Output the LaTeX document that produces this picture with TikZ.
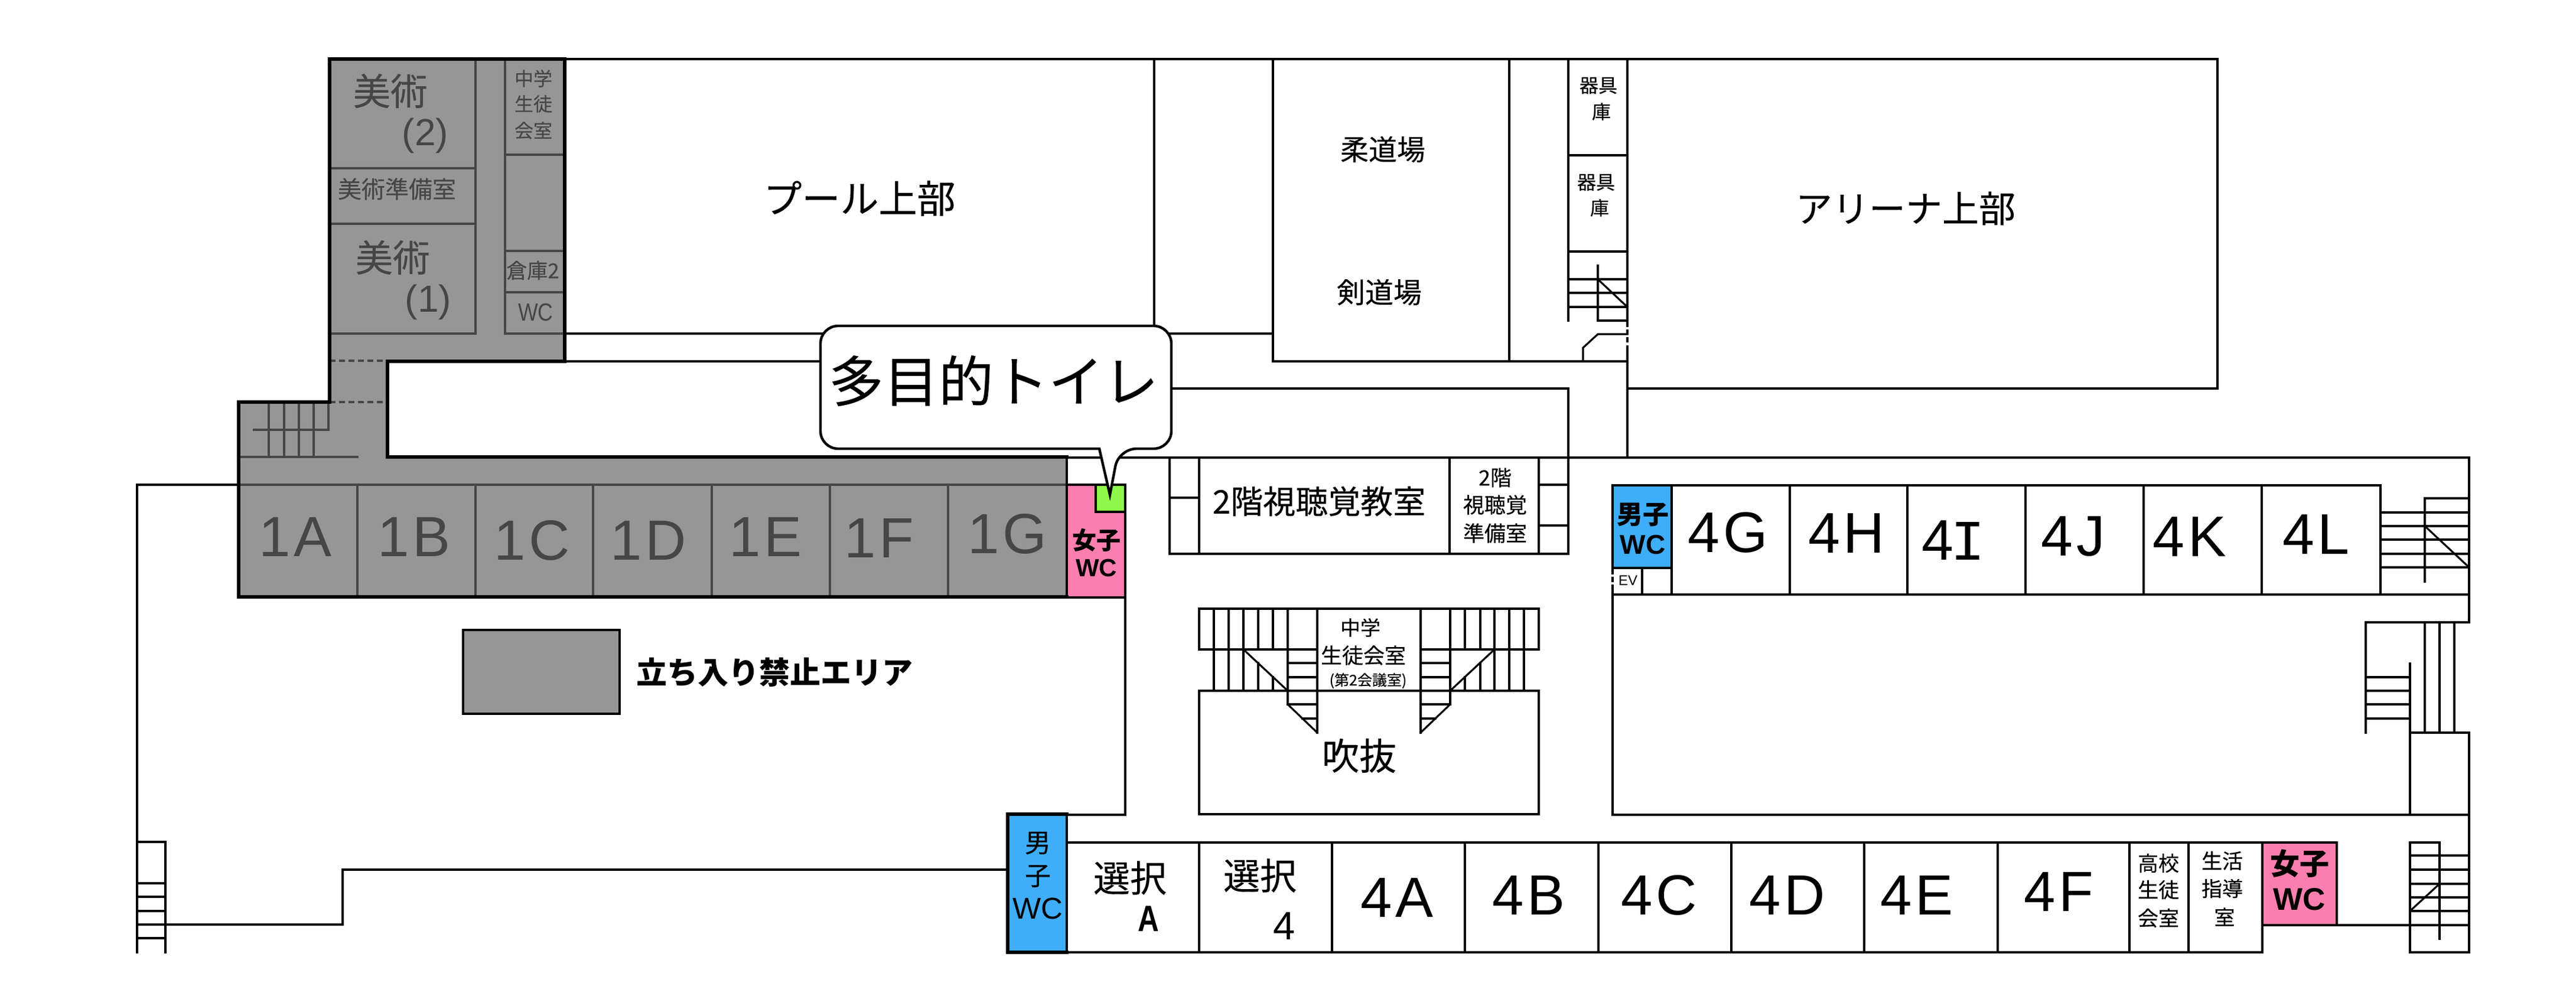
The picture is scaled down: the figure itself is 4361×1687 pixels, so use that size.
\documentclass[tikz,border=0pt]{standalone}
\usepackage{fontspec}
\usepackage{graphicx}
\setmainfont{Liberation Sans}
\newfontfamily\jp[FakeBold=0.25]{Noto Sans CJK JP}
\newfontfamily\jb{Noto Sans CJK JP}
\newfontfamily\lmono{Liberation Mono}
\newfontfamily\wide[LetterSpace=6]{Liberation Sans}
\newcommand\jf[1]{\jp\fontsize{\fpeval{#1/4}}{\fpeval{#1/4}}\selectfont}
\newcommand\jbf[1]{\jb\bfseries\fontsize{\fpeval{#1/4}}{\fpeval{#1/4}}\selectfont}
\newcommand\lf[1]{\rmfamily\fontsize{\fpeval{#1/4}}{\fpeval{#1/4}}\selectfont}
\newcommand\wf[1]{\wide\fontsize{\fpeval{#1/4}}{\fpeval{#1/4}}\selectfont}
\newcounter{lb}
\newcommand\lbl[3]{\stepcounter{lb}\node[lab,font=#2] (lab\arabic{lb}) at (#1) {#3};}
\newcommand\glbl[3]{\stepcounter{lb}\node[lab,text=gtext,font=#2] (lab\arabic{lb}) at (#1) {#3};}
\definecolor{gfill}{HTML}{969696}
\definecolor{gtext}{HTML}{464646}
\definecolor{wcb}{HTML}{3FAEF8}
\definecolor{wcp}{HTML}{FB7FAE}
\definecolor{wcg}{HTML}{8EF94A}
\tikzset{
  lab/.style={inner sep=0pt,outer sep=0pt,anchor=center,align=center},
  wall/.style={draw=black,line width=.8pt,line cap=rect,line join=miter},
  heavy/.style={draw=black,line width=1.3pt,line cap=rect,line join=miter},
  gline/.style={draw=gtext,line width=.8pt,line cap=rect},
  gdash/.style={draw=gtext,line width=.8pt,dash pattern=on 2.5pt off 1.5pt},
  wdash/.style={draw=black,line width=.8pt,dash pattern=on 2.2pt off 1.1pt},
}
\begin{document}
\begin{tikzpicture}[x=.25pt,y=-.25pt]
\useasboundingbox (0,0) rectangle (4361,1687);
% ---------- fills
\fill[gfill] (558,100)--(956,100)--(956,612)--(656,612)--(656,774)--(1806,774)--(1806,1011)--(404,1011)--(404,681)--(558,681)--cycle;
\fill[wcp] (1806,821) rectangle (1905,1012);
\fill[wcg] (1855,821) rectangle (1905,867);
\fill[wcb] (2730,822) rectangle (2830,962);
\fill[wcb] (1706,1379) rectangle (1806,1613);
\fill[wcp] (3830,1427) rectangle (3956,1567);
\fill[gfill] (784,1067) rectangle (1049,1209);
% ---------- upper block
\draw[wall] (956,100)--(3754,100)--(3754,658)--(2755,658);
\draw[wall] (956,565)--(2155,565);
\draw[wall] (956,612)--(1389,612);
\draw[wall] (1954,100)--(1954,552);
\draw[wall] (2155,100)--(2155,612)--(2755,612);
\draw[wall] (2555,100)--(2555,612);
\draw[wall] (2655,100)--(2655,543);
\draw[wall] (2755,100)--(2755,543);
\draw[wdash] (2755,545)--(2755,590);
\draw[wall] (2755,590)--(2755,775);
\draw[wall] (2655,263)--(2755,263);
\draw[wall] (2655,426)--(2755,426);
\draw[wall] (2705,450)--(2705,543)--(2755,543);
\draw[wall] (2655,473)--(2755,473);
\draw[wall] (2655,496)--(2755,496);
\draw[wall] (2655,520)--(2755,520);
\draw[wall] (2705,473)--(2755,520);
\draw[wall] (2755,566)--(2705,566)--(2680,589)--(2680,612);
% ---------- middle corridor
\draw[wall] (1983,658)--(2655,658)--(2655,938);
\draw[wall] (232,821)--(404,821);
\draw[wall] (1806,775)--(4180,775)--(4180,1054)--(4005,1054)--(4005,1241);
\draw[wall] (1980,775)--(1980,938)--(2655,938);
\draw[wall] (2030,775)--(2030,938);
\draw[wall] (2454,775)--(2454,938);
\draw[wall] (2605,775)--(2605,938);
\draw[wall] (1980,843)--(2030,843);
\draw[wall] (2605,821)--(2655,821);
\draw[wall] (2605,890)--(2655,890);
% ---------- grey block
\draw[gline] (558,285)--(805,285);
\draw[gline] (558,379)--(805,379);
\draw[gline] (558,565)--(805,565)--(805,100);
\draw[gline] (855,100)--(855,565)--(956,565);
\draw[gline] (855,262)--(956,262);
\draw[gline] (855,425)--(956,425);
\draw[gline] (855,495)--(956,495);
\draw[gdash] (558,611)--(656,611);
\draw[gdash] (558,681)--(656,681);
\draw[gline] (455,681)--(455,774);
\draw[gline] (481,681)--(481,774);
\draw[gline] (506,681)--(506,774);
\draw[gline] (531,681)--(531,774);
\draw[gline] (556,681)--(556,728)--(430,728);
\draw[gline] (404,774)--(605,774);
\draw[gline] (404,821)--(1806,821);
\draw[gline] (605,821)--(605,1011);
\draw[gline] (805,821)--(805,1011);
\draw[gline] (1004,821)--(1004,1011);
\draw[gline] (1205,821)--(1205,1011);
\draw[gline] (1405,821)--(1405,1011);
\draw[gline] (1605,821)--(1605,1011);
\draw[heavy] (1806,774)--(656,774)--(656,612)--(956,612)--(956,100)--(558,100)--(558,681)--(404,681)--(404,1011)--(1806,1011);
\draw[wall] (1806,774)--(1806,1012)--(1905,1012);
\draw[wall] (1806,821)--(1905,821);
\draw[wall] (1905,821)--(1905,1380)--(1706,1380);
\draw[wall] (1855,821)--(1855,867)--(1905,867);
\draw[heavy,line width=1.1pt] (784,1067) rectangle (1049,1209);
% ---------- central stairs
\draw[wall] (2030,1100)--(2030,1031)--(2605,1031)--(2605,1100);
\draw[wall] (2030,1170) rectangle (2605,1379);
\draw[wall] (2030,1100)--(2230,1100);
\draw[wall] (2405,1100)--(2605,1100);
\foreach \x in {2055,2080,2105,2530,2555,2580} \draw[wall] (\x,1031)--(\x,1170);
\foreach \x in {2130,2155,2480,2506} \draw[wall] (\x,1031)--(\x,1100);
\draw[wall] (2130,1123)--(2130,1170);
\draw[wall] (2155,1147)--(2155,1170);
\draw[wall] (2480,1147)--(2480,1170);
\draw[wall] (2506,1123)--(2506,1170);
\draw[wall] (2180,1031)--(2180,1193);
\draw[wall] (2455,1031)--(2455,1193);
\draw[wall] (2230,1031)--(2230,1241);
\draw[wall] (2405,1031)--(2405,1241);
\foreach \y in {1123,1147,1193} {\draw[wall] (2180,\y)--(2230,\y); \draw[wall] (2405,\y)--(2455,\y);}
\draw[wall] (2205,1217)--(2230,1217);
\draw[wall] (2405,1217)--(2430,1217);
\draw[wall] (2105,1100)--(2180,1170);
\draw[wall] (2180,1193)--(2230,1241);
\draw[wall] (2530,1100)--(2455,1170);
\draw[wall] (2455,1193)--(2405,1241);
% ---------- 4G-4L wing
\draw[wall] (2730,822)--(4030,822);
\draw[wall] (2730,1007)--(4180,1007);
\draw[wall] (2730,1380)--(4180,1380);
\draw[wall] (2730,822)--(2730,962);
\draw[wdash] (2730,964)--(2730,1000);
\draw[wall] (2730,1000)--(2730,1380);
\draw[wall] (2730,962)--(2830,962);
\draw[wall] (2780,962)--(2780,1007);
\draw[wall] (2830,822)--(2830,1007);
\foreach \x in {3030,3229,3429,3629,3829,4030} \draw[wall] (\x,822)--(\x,1007);
\foreach \y in {868,891,914,938,961} \draw[wall] (4030,\y)--(4180,\y);
\draw[wall] (4105,985)--(4105,844)--(4180,844);
\draw[wall] (4105,891)--(4180,961);
\foreach \y in {1147,1170,1193,1217} \draw[wall] (4005,\y)--(4080,\y);
\draw[wall] (4080,1124)--(4080,1380);
\foreach \x in {4105,4130,4155} \draw[wall] (\x,1054)--(\x,1241);
\draw[wall] (4080,1241)--(4180,1241)--(4180,1613)--(4080,1613)--(4080,1427)--(4130,1427)--(4130,1590);
\foreach \y in {1449,1473,1497,1520,1543} \draw[wall] (4080,\y)--(4180,\y);
\draw[wall] (4130,1497)--(4080,1543);
% ---------- lower row
\draw[wall] (232,821)--(232,1613);
\draw[wall] (280,1426)--(280,1613);
\draw[wall] (232,1426)--(280,1426);
\foreach \y in {1496,1519,1543,1589} \draw[wall] (232,\y)--(280,\y);
\draw[wall] (232,1566)--(580,1566)--(580,1473)--(1706,1473);
\draw[wall] (1806,1427)--(3956,1427)--(3956,1567);
\draw[wall] (3830,1567)--(4180,1567);
\draw[wall] (3830,1427)--(3830,1613);
\draw[wall] (1806,1613)--(3830,1613);
\foreach \x in {2030,2255,2480,2706,2931,3156,3382,3605,3705} \draw[wall] (\x,1427)--(\x,1613);
\draw[wall] (1806,1379)--(1806,1613);
\draw[heavy] (1706,1613)--(1706,1379)--(1806,1379);
\draw[heavy] (1706,1613)--(1806,1613);
% ---------- callout
\draw[wall,line width=1.1pt,fill=white,line cap=butt] [rounded corners=7.5pt] (1389,650)--(1389,552)--(1983,552)--(1983,760)--(1894,760) [sharp corners] --(1879,838)--(1861,760) [rounded corners=7.5pt] --(1389,760)--cycle;
% ---------- texts
\lbl{1682,645}{\jf{93}}{多目的トイレ}
\lbl{1455,336}{\jf{65}}{プール上部}
\lbl{3226,353}{\jf{62}}{アリーナ上部}
\lbl{2341,253}{\jf{48}}{柔道場}
\lbl{2335,495}{\jf{48}}{剣道場}
\lbl{2706,145}{\jf{32}}{器具}
\lbl{2711,189}{\jf{32}}{庫}
\lbl{2702,309}{\jf{32}}{器具}
\lbl{2708,352}{\jf{32}}{庫}
\glbl{661,154}{\jf{63}}{美術}
\glbl{720,230}{\lf{64}}{(2)}
\glbl{672,320}{\jf{40}}{美術準備室}
\glbl{665,436}{\jf{63}}{美術}
\glbl{725,512}{\lf{64}}{(1)}
\glbl{903,133}{\jf{32}}{中学}
\glbl{903,176}{\jf{32}}{生徒}
\glbl{903,221}{\jf{32}}{会室}
\glbl{902,458}{\jf{35}}{倉庫2}
\glbl{907,529}{\lf{42}}{\scalebox{.85}[1]{WC}}
\glbl{500,909}{\wf{96}}{1A}
\glbl{701,909}{\wf{96}}{1B}
\glbl{901,915}{\wf{96}}{1C}
\glbl{1098,915}{\wf{96}}{1D}
\glbl{1296,909}{\wf{96}}{1E}
\glbl{1488,911}{\wf{96}}{1F}
\glbl{1705,904}{\wf{96}}{1G}
\lbl{1856,915}{\jbf{41}}{女子}
\lbl{1856,962}{\lf{42}\bfseries}{WC}
\lbl{2233,849}{\jf{55}}{2階視聴覚教室}
\lbl{2531,809}{\jf{36}}{2階}
\lbl{2531,855}{\jf{36}}{視聴覚}
\lbl{2531,903}{\jf{36}}{準備室}
\lbl{1311,1139}{\jbf{52}}{立ち入り禁止エリア}
\lbl{2303,1063}{\jf{34}}{中学}
\lbl{2308,1110}{\jf{36}}{生徒会室}
\lbl{2316,1153}{\jf{25}}{(第2会議室)}
\lbl{2301,1280}{\jf{63}}{吹抜}
\lbl{2781,872}{\jbf{44}}{男子}
\lbl{2781,923}{\lf{46}\bfseries}{WC}
\lbl{2756,983}{\lf{24}}{EV}
\lbl{2925,902}{\wf{97}}{4G}
\lbl{3126,903}{\wf{97}}{4H}
\lbl{3307,915}{\lf{97}}{4\kern-1.2pt{\lmono I}}
\lbl{3510,909}{\wf{97}}{4J}
\lbl{3707,909}{\wf{97}}{4K}
\lbl{3921,905}{\wf{97}}{4L}
\lbl{1757,1428}{\jf{44}}{男}
\lbl{1757,1484}{\jf{44}}{子}
\lbl{1757,1539}{\lf{51}}{WC}
\lbl{1913,1487}{\jf{62}}{選択}
\lbl{1944,1556}{\lf{62}\bfseries}{\scalebox{.8}[1]{A}}
\lbl{2133,1483}{\jf{62}}{選択}
\lbl{2174,1568}{\lf{67}}{4}
\lbl{2365,1520}{\wf{96}}{4A}
\lbl{2588,1516}{\wf{96}}{4B}
\lbl{2809,1516}{\wf{96}}{4C}
\lbl{3026,1516}{\wf{96}}{4D}
\lbl{3245,1516}{\wf{96}}{4E}
\lbl{3485,1510}{\wf{96}}{4F}
\lbl{3654,1462}{\jf{35}}{高校}
\lbl{3654,1507}{\jf{35}}{生徒}
\lbl{3654,1555}{\jf{35}}{会室}
\lbl{3762,1458}{\jf{35}}{生活}
\lbl{3762,1505}{\jf{35}}{指導}
\lbl{3766,1553}{\jf{35}}{室}
\lbl{3893,1463}{\jbf{50}}{女子}
\lbl{3893,1523}{\lf{53}\bfseries}{WC}
\end{tikzpicture}
\end{document}
